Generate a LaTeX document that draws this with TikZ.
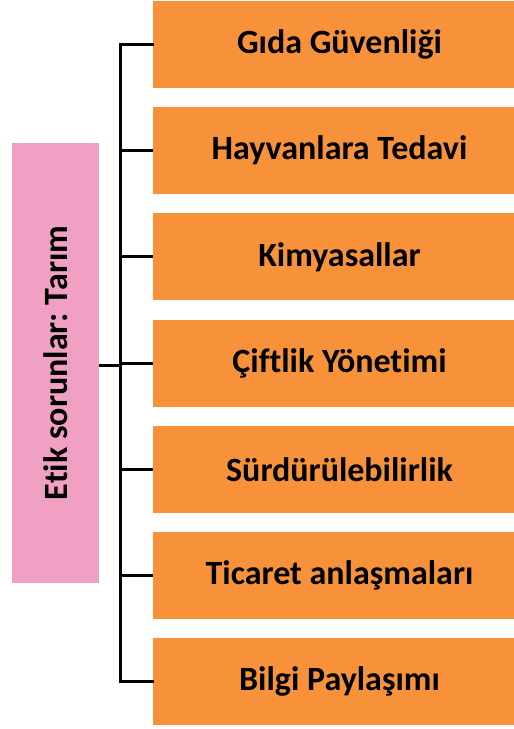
\documentclass[tikz,border=0pt]{standalone}
\usepackage{fontspec}
\setmainfont{Carlito}[Ligatures=NoCommon]
\frenchspacing
\definecolor{boxorange}{RGB}{247,146,58}
\definecolor{boxpink}{RGB}{240,160,194}
\begin{document}
\begin{tikzpicture}[x=1pt,y=-1pt,
  item/.style={fill=boxorange,draw=none,minimum width=361pt,minimum height=87pt,inner sep=0pt,font=\fontsize{34}{40}\selectfont\bfseries,text=black},
  root/.style={fill=boxpink,draw=none,minimum width=87pt,minimum height=440pt,inner sep=0pt,font=\fontsize{34}{40}\selectfont\bfseries,text=black},
  conn/.style={line width=3pt,black}]
\useasboundingbox (0,0) rectangle (514,729);
\node[root] (r) at (55.5,363) {\rotatebox{90}{\frenchspacing Etik sorunlar: Tarım}};
\coordinate (sp) at (120,365);
\foreach \i/\t in {0/Gıda Güvenliği,1/Hayvanlara Tedavi,2/Kimyasallar,3/Çiftlik Yönetimi,4/Sürdürülebilirlik,5/Ticaret anlaşmaları,6/Bilgi Paylaşımı}{
  \node[item] (b\i) at (333.5,{44.5+106.2*\i}) {\hspace*{12pt}\t};
}
\draw[conn] (r.east |- sp) -- (sp);
\draw[conn,line cap=rect] (b0.west) -| (sp) |- (b6.west);
\foreach \i in {1,...,5}{\draw[conn] (b\i.west) -- (sp |- b\i.west);}
\end{tikzpicture}
\end{document}
